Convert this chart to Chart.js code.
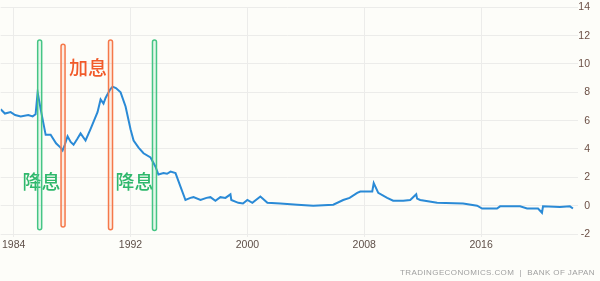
<!DOCTYPE html>
<html>
<head>
<meta charset="utf-8">
<script src="https://cdn.jsdelivr.net/npm/chart.js@4/dist/chart.umd.min.js"></script>
<style>
  html, body { margin: 0; padding: 0; background: #fdfdf9; }
  canvas { display: block; }
</style>
</head>
<body>
<canvas id="myChart" width="600" height="281"></canvas>
<script>
// policy rate, year -> percent
const years = [1983.11, 1983.4, 1983.79, 1984.1, 1984.48, 1985.0, 1985.3, 1985.5, 1985.64, 1985.85,
  1986.19, 1986.53, 1986.9, 1987.21, 1987.35, 1987.5, 1987.69, 1987.9, 1988.1, 1988.35,
  1988.58, 1988.92, 1989.26, 1989.5, 1989.74, 1989.95, 1990.15, 1990.29, 1990.6, 1990.77,
  1991.0, 1991.32, 1991.66, 1992.0, 1992.21, 1992.55, 1992.89, 1993.37, 1993.71, 1993.91,
  1994.26, 1994.5, 1994.74, 1995.08, 1995.42, 1995.76, 1996.1, 1996.31, 1996.79, 1997.2,
  1997.47, 1997.81, 1998.15, 1998.5, 1998.84, 1998.9, 1999.38, 1999.7, 2000.0, 2000.34,
  2000.89, 2001.37, 2002.26, 2003.42, 2004.51, 2005.88, 2006.56, 2007.0, 2007.52, 2007.73,
  2008.55, 2008.65, 2008.96, 2009.57, 2009.98, 2010.67, 2011.15, 2011.56, 2011.62, 2011.83,
  2012.99, 2014.77, 2015.73, 2016.07, 2017.09, 2017.3, 2018.67, 2019.15, 2019.9, 2020.17,
  2020.24, 2021.4, 2022.08, 2022.29];
const rates = [6.8, 6.5, 6.6, 6.4, 6.3, 6.4, 6.3, 6.45, 8.0, 6.8,
  5.0, 5.0, 4.4, 4.1, 3.9, 4.3, 4.9, 4.5, 4.3, 4.7,
  5.1, 4.6, 5.4, 6.0, 6.6, 7.5, 7.2, 7.6, 8.2, 8.4,
  8.3, 8.0, 7.0, 5.4, 4.6, 4.1, 3.7, 3.4, 2.75, 2.2,
  2.3, 2.25, 2.4, 2.3, 1.35, 0.4, 0.55, 0.6, 0.4, 0.55,
  0.6, 0.35, 0.6, 0.55, 0.8, 0.4, 0.2, 0.15, 0.4, 0.2,
  0.65, 0.2, 0.15, 0.07, 0.0, 0.07, 0.4, 0.55, 0.9, 1.0,
  1.0, 1.6, 0.9, 0.55, 0.35, 0.35, 0.4, 0.8, 0.5, 0.4,
  0.2, 0.15, 0.0, -0.2, -0.2, -0.05, -0.05, -0.2, -0.2, -0.5,
  -0.05, -0.1, -0.05, -0.2];

const xTicks = [1984, 1992, 2000, 2008, 2016];
const yTicks = [-2, 0, 2, 4, 6, 8, 10, 12, 14];

// marker bars (cut = green, hike = orange)
const barYears = [1985.78, 1987.38, 1990.63, 1993.64];
const barKinds = ['cut', 'hike', 'hike', 'cut'];
const barTops = [11.7, 11.4, 11.7, 11.7];
const barBottoms = [-1.7, -1.5, -1.7, -1.75];

// text notes
const noteTexts = ['降息', '加息', '降息'];
const noteKinds = ['cut', 'hike', 'cut'];
const noteYears = [1985.91, 1989.09, 1992.27];
const noteValues = [1.69, 9.72, 1.69];

const colors = {
    cut: { stroke: '#45c585', fill: 'rgba(69,197,133,0.12)', text: '#2fb86c' },
    hike: { stroke: '#f5784a', fill: 'rgba(245,120,74,0.12)', text: '#f15a2a' }
};

const markerPlugin = {
    id: 'markers',
    afterDatasetsDraw(chart) {
        const ctx = chart.ctx;
        const x = chart.scales.x, y = chart.scales.y;
        ctx.save();
        // notes
        ctx.font = '500 19px "Noto Sans CJK SC"';
        ctx.textAlign = 'center';
        ctx.textBaseline = 'middle';
        for (let i = 0; i < noteTexts.length; i++) {
            ctx.fillStyle = colors[noteKinds[i]].text;
            ctx.fillText(noteTexts[i], x.getPixelForValue(noteYears[i]), y.getPixelForValue(noteValues[i]));
        }
        // bars
        ctx.lineWidth = 1.5;
        for (let i = 0; i < barYears.length; i++) {
            const c = colors[barKinds[i]];
            const cx = x.getPixelForValue(barYears[i]);
            const top = y.getPixelForValue(barTops[i]);
            const bottom = y.getPixelForValue(barBottoms[i]);
            ctx.beginPath();
            ctx.roundRect(cx - 2, top, 4, bottom - top, 2);
            ctx.fillStyle = c.fill;
            ctx.fill();
            ctx.strokeStyle = c.stroke;
            ctx.stroke();
        }
        // source line
        ctx.font = '8px "Liberation Sans"';
        ctx.letterSpacing = '0.4px';
        ctx.textAlign = 'right';
        ctx.textBaseline = 'middle';
        ctx.fillStyle = '#a0a0a0';
        ctx.fillText('TRADINGECONOMICS.COM  |  BANK OF JAPAN', 595, 273);
        ctx.restore();
    }
};

const ctx = document.getElementById('myChart').getContext('2d');
const myChart = new Chart(ctx, {
    type: 'line',
    data: {
        datasets: [{
            data: years.map((yr, i) => ({ x: yr, y: rates[i] })),
            borderColor: '#2a8ad6',
            borderWidth: 2,
            pointRadius: 0,
            tension: 0,
            fill: false
        }]
    },
    options: {
        responsive: false,
        animation: false,
        events: [],
        layout: { padding: { top: 7, left: 0, right: 10, bottom: 0 } },
        plugins: { legend: { display: false }, tooltip: { enabled: false } },
        scales: {
            x: {
                type: 'linear',
                min: 1983.11,
                max: 2022.43,
                afterBuildTicks: (s) => { s.ticks = xTicks.map(v => ({ value: v })); },
                afterFit: (s) => { s.height = 47; },
                grid: { color: '#ececea', tickLength: 3, drawTicks: true },
                border: { display: false },
                ticks: {
                    color: '#5e4f48',
                    font: { family: 'Liberation Sans', size: 10.5 },
                    padding: 2,
                    maxRotation: 0,
                    callback: (v) => String(v)
                }
            },
            y: {
                position: 'right',
                min: -2,
                max: 14,
                afterBuildTicks: (s) => { s.ticks = yTicks.map(v => ({ value: v })); },
                afterFit: (s) => { s.width = 15; },
                grid: { color: '#ececea', tickLength: 3 },
                border: { display: false },
                ticks: {
                    color: '#6b4f45',
                    font: { family: 'Liberation Sans', size: 10.5 },
                    crossAlign: 'far',
                    padding: 1
                }
            }
        }
    },
    plugins: [markerPlugin]
});
</script>
</body>
</html>
